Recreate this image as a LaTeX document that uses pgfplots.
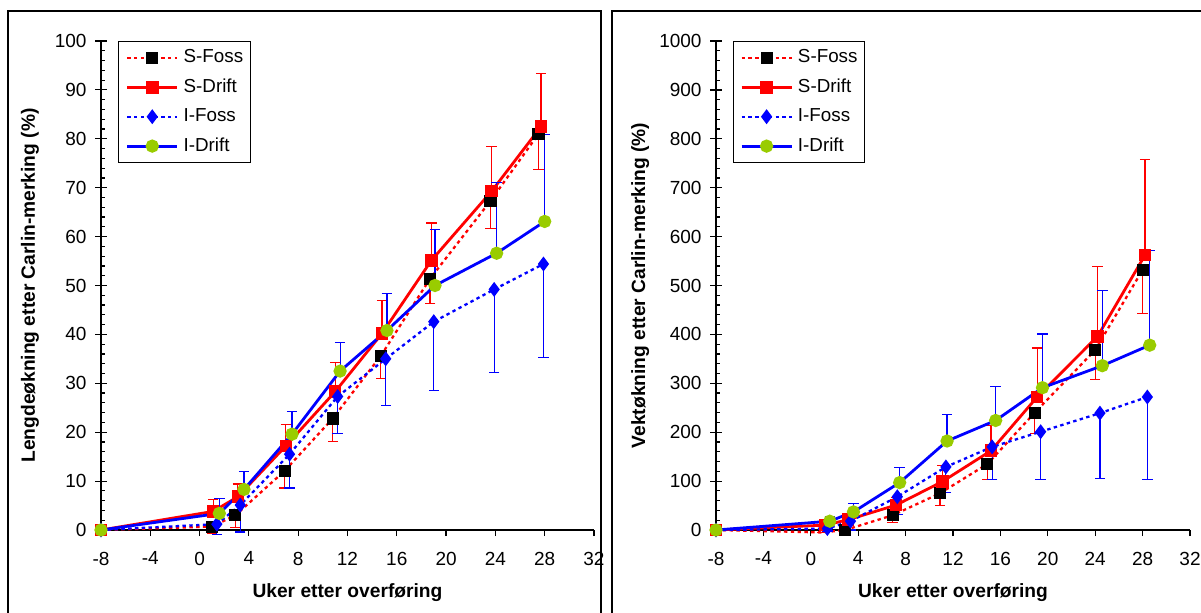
\documentclass[border=0pt]{standalone}
\usepackage{fontspec}
\setmainfont{Liberation Sans}
\usepackage{pgfplots}
\usepackage{pgfplotstable}
\pgfplotsset{compat=1.18}
\definecolor{myred}{RGB}{255,0,0}
\definecolor{myblue}{RGB}{0,0,255}
\definecolor{mygreen}{RGB}{153,204,0}

% ---------------- left panel data ----------------
\pgfplotstableread{
x y e
-8 0 0
1.0 0.7 1.3
2.9 3.0 2.5
6.9 12.1 3.5
10.8 22.8 4.7
14.7 35.6 4.6
18.7 51.4 5.0
23.6 67.3 5.6
27.5 81.0 7.2
}\LSF
\pgfplotstableread{
x y e
-8 0 0
1.1 3.8 2.4
3.1 6.8 2.6
7.0 17.2 4.4
11.0 28.3 5.9
14.8 40.2 6.7
18.8 55.1 7.7
23.7 69.3 9.1
27.7 82.5 10.8
}\LSD
\pgfplotstableread{
x y e
-8 0 0
1.4 1.2 2.2
3.3 5.1 5.5
7.3 15.5 6.9
11.2 27.3 7.5
15.1 35.0 9.6
19.0 42.6 14.1
23.9 49.2 17.0
27.9 54.4 19.2
}\LIF
\pgfplotstableread{
x y e
-8 0 0
1.6 3.4 3.0
3.6 8.3 3.6
7.5 19.6 4.6
11.4 32.5 5.9
15.2 40.8 7.6
19.1 50.0 11.5
24.1 56.6 14.4
28.0 63.1 17.7
}\LID
% ---------------- right panel data ----------------
\pgfplotstableread{
x y e
-8 0 0
1.0 -5 0
2.9 0 2
6.9 30 15
10.9 75 25
14.9 135 32
18.9 240 42
24.0 368 60
28.0 532 90
}\RSF
\pgfplotstableread{
x y e
-8 0 0
1.2 10 5
3.15 21 7
7.2 51 15
11.1 99 33
15.2 162 52
19.1 272 100
24.2 396 143
28.2 562 195
}\RSD
\pgfplotstableread{
x y e
-8 0 0
1.4 3 5
3.35 18 18
7.3 68 36
11.4 129 52
15.3 170 66
19.4 201 97
24.4 239 133
28.4 272 168
}\RIF
\pgfplotstableread{
x y e
-8 0 0
1.6 18 10
3.6 37 17
7.5 97 31
11.5 182 55
15.6 224 70
19.55 291 110
24.6 336 154
28.6 378 194
}\RID

\pgfplotsset{
  common/.style={
    scale only axis,
    clip=false,
    axis x line=bottom, axis y line=left,
    axis line style={-, line width=0.6pt},
    xmin=-8, xmax=32, xtick={-8,-4,...,32},
    xticklabels={-8,-4,0,4,8,12,16,20,24,28,32},
    ymin=0,
    /pgf/number format/assume math mode=true,
    /pgf/number format/1000 sep={},
    tick style={line width=0.6pt, black},
    xtick style={draw=none},
    tick align=center,
    major tick length=5.8pt,
    minor tick length=1.8pt,
    minor tick style={xshift=0.9pt},
    tick label style={font=\fontsize{9.5}{11}\selectfont},
    xticklabel style={yshift=-4.5pt},
    yticklabel style={xshift=-0.8pt},
    label style={font=\bfseries\fontsize{9.6}{11}\selectfont},
    xlabel={Uker etter overføring},
    xlabel style={at={(axis description cs:0.5,-0.127)}, anchor=center},
    legend cell align=left,
    legend image code/.code={\draw[mark repeat=2, mark phase=2, #1] plot coordinates {(0pt,0pt) (12.5pt,0pt) (25pt,0pt)};},
    legend style={at={(0.035,1.0)}, anchor=north west, draw=black, line width=0.6pt,
      font=\fontsize{9.4}{11}\selectfont, row sep=6pt, column sep=2.5pt,
      inner xsep=3.5pt, inner ysep=3.8pt,
      nodes={inner sep=0pt, text height=6.8pt, text depth=1.9pt}},
  },
  tickaxis/.style={
    scale only axis, clip=false,
    axis x line=bottom, axis y line=none,
    axis line style={draw=none},
    xmin=-8, xmax=32, xtick={-8,-4,...,32}, xticklabels={},
    tick align=outside, major tick length=3pt,
    tick style={line width=0.6pt, black},
  },
  sfoss/.style={myred, line width=1.15pt, dash pattern=on 1.7pt off 1.7pt,
    mark=square*, mark options={solid, fill=black, draw=black, mark size=2.45pt},
    error bars/.cd, y dir=minus, y explicit,
    error bar style={solid, line width=0.6pt, myred},
    error mark options={rotate=90, solid, myred, line width=0.6pt, mark size=2.6pt}},
  sdrift/.style={myred, line width=1.4pt, solid,
    mark=square*, mark options={solid, fill=myred, draw=myred, mark size=2.45pt},
    error bars/.cd, y dir=plus, y explicit,
    error bar style={solid, line width=0.6pt, myred},
    error mark options={rotate=90, solid, myred, line width=0.6pt, mark size=2.6pt}},
  ifoss/.style={myblue, line width=1.15pt, dash pattern=on 1.7pt off 1.7pt,
    mark=diamond*, mark options={solid, fill=myblue, draw=myblue, mark size=2.8pt},
    error bars/.cd, y dir=minus, y explicit,
    error bar style={solid, line width=0.6pt, myblue},
    error mark options={rotate=90, solid, myblue, line width=0.6pt, mark size=2.6pt}},
  idrift/.style={myblue, line width=1.4pt, solid,
    mark=*, mark options={solid, fill=mygreen, draw=mygreen, mark size=2.6pt},
    error bars/.cd, y dir=plus, y explicit,
    error bar style={solid, line width=0.6pt, myblue},
    error mark options={rotate=90, solid, myblue, line width=0.6pt, mark size=2.6pt}},
}

\begin{document}
\begin{tikzpicture}
\path[use as bounding box] (0,0) rectangle (600.5pt,306pt);
\clip (0,0) rectangle (600.5pt,306pt);
\draw[line width=0.6pt] (4pt,-20pt) rectangle (300.5pt,300.5pt);
\draw[line width=0.6pt] (306pt,-20pt) rectangle (640pt,300.5pt);

% ---------- left ----------
\begin{axis}[tickaxis, at={(50.5pt,41pt)}, anchor=south west, width=246.5pt, height=244.5pt, ymin=0, ymax=100]
\end{axis}
\begin{axis}[common, at={(50.5pt,41pt)}, anchor=south west, width=246.5pt, height=244.5pt,
  ymax=100, ytick={0,10,...,100}, minor y tick num=4,
  ylabel={Lengdeøkning etter Carlin-merking (\%)},
  ylabel style={at={(axis description cs:-0.144,0.5)}, rotate=0, anchor=center}]
\addplot[sfoss] table[x=x, y=y, y error=e] {\LSF};
\addlegendentry{S-Foss}
\addplot[sdrift] table[x=x, y=y, y error=e] {\LSD};
\addlegendentry{S-Drift}
\addplot[ifoss] table[x=x, y=y, y error=e] {\LIF};
\addlegendentry{I-Foss}
\addplot[idrift] table[x=x, y=y, y error=e] {\LID};
\addlegendentry{I-Drift}
\end{axis}

% ---------- right ----------
\begin{axis}[tickaxis, at={(358pt,41pt)}, anchor=south west, width=237pt, height=244.5pt, ymin=0, ymax=1000]
\end{axis}
\begin{axis}[common, at={(358pt,41pt)}, anchor=south west, width=237pt, height=244.5pt,
  ymax=1000, ytick={0,100,...,1000}, minor y tick num=4,
  ylabel={Vektøkning etter Carlin-merking (\%)},
  ylabel style={at={(axis description cs:-0.160,0.5)}, rotate=0, anchor=center}]
\addplot[mark indices={1,3,4,5,6,7,8,9}, legend image post style={mark indices={2}}, sfoss] table[x=x, y=y, y error=e] {\RSF};
\addlegendentry{S-Foss}
\addplot[sdrift] table[x=x, y=y, y error=e] {\RSD};
\addlegendentry{S-Drift}
\addplot[ifoss] table[x=x, y=y, y error=e] {\RIF};
\addlegendentry{I-Foss}
\addplot[idrift] table[x=x, y=y, y error=e] {\RID};
\addlegendentry{I-Drift}
\end{axis}
\end{tikzpicture}
\end{document}
